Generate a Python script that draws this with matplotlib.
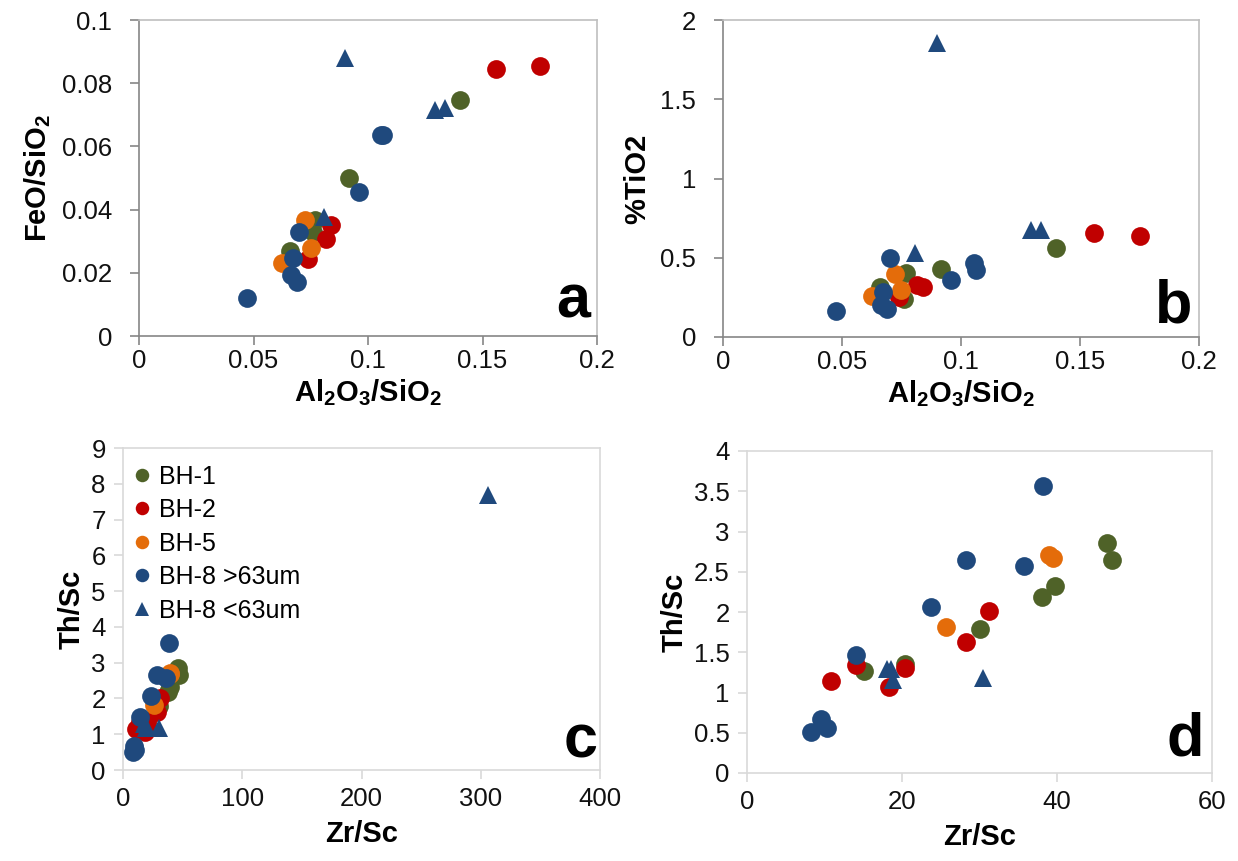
import matplotlib
matplotlib.use("Agg")
import matplotlib.pyplot as plt
from matplotlib.ticker import FuncFormatter

plt.rcParams['font.family'] = ['Liberation Sans', 'DejaVu Sans']
plt.rcParams['mathtext.fontset'] = 'custom'
plt.rcParams['mathtext.rm'] = 'Liberation Sans'
plt.rcParams['mathtext.bf'] = 'Liberation Sans:bold'

# Series names and marker colours
series = ['BH-1', 'BH-2', 'BH-5', 'BH-8 >63um', 'BH-8 <63um']
colours = ['#4F6228', '#C00000', '#E46C0A', '#1F497D', '#1F497D']
markers = ['o', 'o', 'o', 'o', '^']

# Major element ratios (panels a and b)
al_si = [
    [0.066, 0.076, 0.077, 0.0915, 0.140],
    [0.074, 0.0817, 0.084, 0.156, 0.175],
    [0.0626, 0.0723, 0.0749],
    [0.0473, 0.0664, 0.0689, 0.0674, 0.070, 0.096, 0.1055, 0.1065],
    [0.0808, 0.0898, 0.1293, 0.1335],
]
feo_si = [
    [0.0269, 0.033, 0.0368, 0.050, 0.0747],
    [0.0243, 0.0308, 0.035, 0.0845, 0.0854],
    [0.023, 0.0368, 0.0279],
    [0.012, 0.0192, 0.0172, 0.0248, 0.0329, 0.0455, 0.0637, 0.0635],
    [0.0376, 0.088, 0.0715, 0.072],
]
tio2 = [
    [0.317, 0.24, 0.406, 0.43, 0.56],
    [0.254, 0.33, 0.313, 0.654, 0.637],
    [0.26, 0.396, 0.297],
    [0.166, 0.20, 0.175, 0.286, 0.498, 0.36, 0.465, 0.42],
    [0.53, 1.857, 0.675, 0.675],
]

# Trace element ratios (panels c and d)
zr_sc = [
    [46.4, 47.1, 39.7, 38.0, 30.0, 15.1, 20.4],
    [31.2, 28.3, 14.1, 18.3, 20.4, 10.8],
    [39.0, 39.5, 25.7],
    [38.2, 28.2, 35.7, 23.7, 14.0, 9.5, 10.3, 8.2],
    [18.0, 18.6, 18.9, 30.5, 306.0],
]
th_sc = [
    [2.86, 2.65, 2.32, 2.19, 1.79, 1.27, 1.36],
    [2.01, 1.63, 1.34, 1.07, 1.30, 1.14],
    [2.71, 2.67, 1.81],
    [3.56, 2.65, 2.57, 2.06, 1.47, 0.67, 0.56, 0.51],
    [1.29, 1.29, 1.16, 1.18, 7.68],
]

W, H = 1238, 861
fig = plt.figure(figsize=(W / 100, H / 100), dpi=100)


def make_axes(left, right, top, bottom):
    return fig.add_axes([left / W, 1 - bottom / H, (right - left) / W, (bottom - top) / H])


ax_a = make_axes(139, 597, 20, 336)
ax_b = make_axes(723, 1199, 20, 337)
ax_c = make_axes(123, 600, 448, 770)
ax_d = make_axes(747, 1212, 451, 773)

fmt = FuncFormatter(lambda v, p: f'{v:g}')


def style(ax, dark):
    main = '#868686' if dark else '#D9D9D9'
    light = '#BFBFBF' if dark else '#D9D9D9'
    ax.spines['left'].set_color(main)
    ax.spines['bottom'].set_color(main)
    ax.spines['top'].set_color(light)
    ax.spines['right'].set_color(light)
    for s in ax.spines.values():
        s.set_linewidth(1.2)
    ax.tick_params(direction='out', length=6.5, width=1.2, color=main,
                   labelsize=18.5, labelcolor='#111111', pad=6)
    if dark:
        ax.tick_params(axis='y', pad=13)
        ax.tick_params(axis='x', pad=3)
    ax.xaxis.set_major_formatter(fmt)
    ax.yaxis.set_major_formatter(fmt)


def draw(ax, xs, ys, clip=True):
    for name, c, m, x, y in zip(series, colours, markers, xs, ys):
        ax.plot(x, y, linestyle='none', marker=m, color=c, markersize=13.5,
                markeredgewidth=0, label=name, clip_on=clip)


# Panel a
draw(ax_a, al_si, feo_si)
ax_a.set_xlim(0, 0.2)
ax_a.set_ylim(0, 0.1)
ax_a.set_xticks([0, 0.05, 0.1, 0.15, 0.2])
ax_a.set_yticks([0, 0.02, 0.04, 0.06, 0.08, 0.1])
style(ax_a, True)
ax_a.set_xlabel(r'$\mathbf{Al_2O_3/SiO_2}$', fontsize=21, labelpad=3)
ax_a.set_ylabel(r'$\mathbf{FeO/SiO_2}$', fontsize=21, labelpad=6)

# Panel b
draw(ax_b, al_si, tio2)
ax_b.set_xlim(0, 0.2)
ax_b.set_ylim(0, 2)
ax_b.set_xticks([0, 0.05, 0.1, 0.15, 0.2])
ax_b.set_yticks([0, 0.5, 1, 1.5, 2])
style(ax_b, True)
ax_b.set_xlabel(r'$\mathbf{Al_2O_3/SiO_2}$', fontsize=21, labelpad=3)
ax_b.set_ylabel('%TiO2', fontsize=21, fontweight='bold', labelpad=6)

# Panel c
draw(ax_c, zr_sc, th_sc)
ax_c.set_xlim(0, 400)
ax_c.set_ylim(0, 9)
ax_c.set_xticks([0, 100, 200, 300, 400])
ax_c.set_yticks(range(10))
style(ax_c, False)
ax_c.set_xlabel('Zr/Sc', fontsize=21, fontweight='bold', labelpad=6)
ax_c.set_ylabel('Th/Sc', fontsize=21, fontweight='bold', labelpad=4)
ax_c.legend(loc='upper left', bbox_to_anchor=(-0.012, 0.995), frameon=False,
            fontsize=18, markerscale=0.72, handlelength=0.8, handletextpad=0.25,
            labelspacing=0.38, borderaxespad=0.2)

# Panel d
draw(ax_d, zr_sc, th_sc)
ax_d.set_xlim(0, 60)
ax_d.set_ylim(0, 4)
ax_d.set_xticks([0, 20, 40, 60])
ax_d.set_yticks([0, 0.5, 1, 1.5, 2, 2.5, 3, 3.5, 4])
style(ax_d, False)
ax_d.set_xlabel('Zr/Sc', fontsize=21, fontweight='bold', labelpad=6)
ax_d.set_ylabel('Th/Sc', fontsize=21, fontweight='bold', labelpad=4)

# Panel letters
for ax, letter, x, y in [(ax_a, 'a', 0.985, 0.057), (ax_b, 'b', 0.985, 0.047),
                         (ax_c, 'c', 0.996, 0.04), (ax_d, 'd', 0.983, 0.053)]:
    ax.text(x, y, letter, transform=ax.transAxes, ha='right', va='baseline',
            fontsize=44, fontweight='bold', color='black')

fig.savefig('out.png', dpi=100)
